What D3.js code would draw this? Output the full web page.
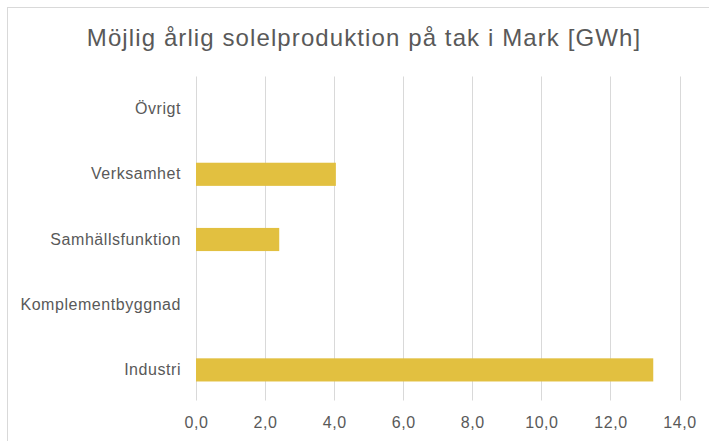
<!DOCTYPE html>
<html>
<head>
<meta charset="utf-8">
<script src="https://cdn.jsdelivr.net/npm/d3@7"></script>
<style>
  html, body { margin: 0; padding: 0; background: #fff; }
  svg { display: block; font-family: "Liberation Sans", Arial, sans-serif; }
</style>
</head>
<body>
<svg id="chart" width="709" height="441"></svg>
<script>
// Building categories, top to bottom as drawn
const categories = ["Övrigt", "Verksamhet", "Samhällsfunktion", "Komplementbyggnad", "Industri"];
// Potential yearly rooftop solar production per category [GWh]
const production = [0, 4.05, 2.41, 0, 13.24];
// Value axis ticks
const xTicks = [0, 2, 4, 6, 8, 10, 12, 14];
const title = "Möjlig årlig solelproduktion på tak i Mark [GWh]";

const svg = d3.select("#chart");
const W = 709, H = 441;
const plot = { left: 196, right: 679.5, top: 76.5, bottom: 402.5 };

// chart frame
svg.append("rect")
  .attr("x", 7.5).attr("y", 7.5)
  .attr("width", W + 20).attr("height", H + 20)
  .attr("fill", "#fff").attr("stroke", "#d9d9d9").attr("stroke-width", 1);

const x = d3.scaleLinear().domain([0, 14]).range([plot.left, plot.right]);
const y = d3.scaleBand().domain(categories).range([plot.top, plot.bottom]).paddingInner(0.645).paddingOuter(0.3225);

// gridlines
svg.append("g")
  .selectAll("line")
  .data(xTicks)
  .join("line")
  .attr("x1", d => Math.round(x(d)) + 0.5).attr("x2", d => Math.round(x(d)) + 0.5)
  .attr("y1", plot.top).attr("y2", plot.bottom - 2)
  .attr("stroke", "#d9d9d9").attr("stroke-width", 1);

// bars
svg.append("g")
  .selectAll("rect")
  .data(categories.map((c, i) => ({ c, v: production[i] })))
  .join("rect")
  .attr("x", x(0))
  .attr("y", d => y(d.c))
  .attr("width", d => x(d.v) - x(0))
  .attr("height", y.bandwidth())
  .attr("fill", "#e2c040");

const labelStyle = sel => sel
  .attr("font-size", 16)
  .attr("letter-spacing", 0.55)
  .attr("fill", "#595959")
  .attr("font-family", "Liberation Sans, Arial, sans-serif");

// category axis
const yAxis = d3.axisLeft(y).tickSize(0).tickPadding(15);
const gy = svg.append("g").attr("transform", `translate(${plot.left},0)`).call(yAxis);
gy.select(".domain").remove();
gy.selectAll("text").call(labelStyle);

// value axis
const fmt = d => d.toFixed(1).replace(".", ",");
const xAxis = d3.axisBottom(x).tickValues(xTicks).tickFormat(fmt).tickSize(0).tickPadding(14);
const gx = svg.append("g").attr("transform", `translate(0,${plot.bottom})`).call(xAxis);
gx.select(".domain").remove();
gx.selectAll("text").call(labelStyle);

// title
svg.append("text")
  .attr("x", 364).attr("y", 46)
  .attr("text-anchor", "middle")
  .attr("font-size", 24)
  .attr("letter-spacing", 1.1)
  .attr("fill", "#595959")
  .text(title);
</script>
</body>
</html>
